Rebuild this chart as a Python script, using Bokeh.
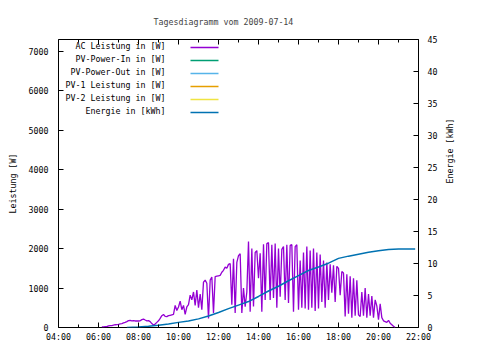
import math
from bokeh.plotting import figure
from bokeh.models import Range1d, LinearAxis, FixedTicker, Label, Arrow
from bokeh.embed import file_html
from bokeh.resources import INLINE

TITLE = "Tagesdiagramm vom 2009-07-14"
LEFT_LABEL = "Leistung [W]"
RIGHT_LABEL = "Energie [kWh]"

x_tick_hours = [4, 6, 8, 10, 12, 14, 16, 18, 20, 22]
x_tick_labels = ["04:00", "06:00", "08:00", "10:00", "12:00", "14:00",
                 "16:00", "18:00", "20:00", "22:00"]
x_minor_hours = [5, 7, 9, 11, 13, 15, 17, 19, 21]
y_left_ticks = [0, 1000, 2000, 3000, 4000, 5000, 6000, 7000]
y_right_ticks = [0, 5, 10, 15, 20, 25, 30, 35, 40, 45]

series_names = ["AC Leistung in [W]", "PV-Power-In in [W]", "PV-Power-Out in [W]",
                "PV-1 Leistung in [W]", "PV-2 Leistung in [W]", "Energie in [kWh]"]
series_colors = ["#9400D3", "#009E73", "#56B4E9", "#E69F00", "#F0E442", "#0072B2"]

# AC power, sampled every 5 minutes from 06:10
ac_start = "06:10"
ac_step_minutes = 5
ac_power = [
    15, 15, 20, 20, 40, 50, 50, 60, 70, 75,
    80, 90, 100, 115, 130, 150, 175, 180, 170, 175, 165, 165,
    165, 170, 200, 215, 190, 170, 175, 150, 100, 60, 90, 130,
    170, 230, 300, 330, 280, 275, 300, 310, 320, 330, 560, 430,
    520, 670, 450, 560, 330, 520, 580, 820, 700, 900, 560, 950,
    500, 850, 450, 1150, 1200, 1120, 230, 1200, 1280, 370, 1290, 1300,
    1310, 1320, 1400, 1450, 1530, 1500, 1600, 1620, 580, 1740, 370, 1650,
    1820, 1870, 370, 1000, 530, 900, 2180, 400, 2000, 530, 1900, 1950,
    1250, 1880, 400, 2110, 700, 2130, 2150, 700, 2100, 750, 2130, 500,
    2000, 780, 1980, 2050, 700, 2100, 620, 2080, 2100, 400, 2050, 2100,
    450, 1700, 500, 1900, 480, 2050, 450, 1950, 500, 2000, 420, 1900,
    480, 1850, 650, 1700, 500, 1650, 700, 1600, 880, 1580, 650, 1550,
    1500, 820, 1420, 1380, 280, 1350, 350, 1300, 250, 1250, 300, 1200,
    320, 280, 900, 300, 1000, 250, 850, 300, 800, 250, 700, 550,
    200, 600, 250, 170, 150, 130, 180, 110, 70, 30, 0,
]

# series present in the legend without visible data
pv_in = []
pv_out = []
pv1 = []
pv2 = []

energy_times = ["07:25", "08:00", "08:30", "09:00", "09:30", "10:00", "10:30", "11:00",
                "11:30", "12:00", "12:30", "13:00", "13:30", "14:00", "14:30", "15:00",
                "15:30", "16:00", "16:30", "17:00", "17:30", "18:00", "18:30", "19:00",
                "19:30", "20:00", "20:30", "21:00", "21:50"]
energy_kwh = [0.0, 0.08, 0.2, 0.35, 0.55, 0.8, 1.0, 1.35,
              1.8, 2.35, 2.95, 3.5, 4.05, 4.85, 5.7, 6.45,
              7.3, 8.1, 8.9, 9.45, 10.05, 10.8, 11.15, 11.45,
              11.75, 12.0, 12.2, 12.25, 12.25]


def to_hours(s):
    h, m = s.split(":")
    return int(h) + int(m) / 60.0


start_h = to_hours(ac_start)
ac_x = [start_h + i * ac_step_minutes / 60.0 for i in range(len(ac_power))]
en_x = [to_hours(t) for t in energy_times]

FONT = "DejaVu Sans Mono"
FS = "8.3px"
FRAME_H = 291

p = figure(width=464, height=344, output_backend="svg", toolbar_location=None,
           x_range=Range1d(4, 22), y_range=Range1d(0, 7300),
           min_border_left=58, min_border_right=46, min_border_top=39, min_border_bottom=14)
p.extra_y_ranges = {"energy": Range1d(0, 45)}
p.background_fill_color = "white"
p.border_fill_color = "white"
p.outline_line_color = "black"
p.outline_line_width = 1
p.xgrid.visible = False
p.ygrid.visible = False

p.title.text = TITLE
p.title.text_font = FONT
p.title.text_font_size = FS
p.title.text_font_style = "normal"
p.title.align = "left"
p.title.offset = 95
p.title.standoff = 26


def style_axis(ax, ticks, minor=None):
    ax.ticker = FixedTicker(ticks=ticks, minor_ticks=minor or [])
    ax.axis_line_color = None
    ax.major_tick_in = 5
    ax.major_tick_out = 0
    ax.minor_tick_in = 3
    ax.minor_tick_out = 0
    ax.major_tick_line_color = "black"
    ax.minor_tick_line_color = "black"
    ax.major_label_text_font = FONT
    ax.major_label_text_font_size = FS
    ax.major_label_text_color = "black"
    ax.axis_label_text_font = FONT
    ax.axis_label_text_font_size = FS
    ax.axis_label_text_font_style = "normal"
    ax.axis_label_text_color = "black"


xa = p.xaxis[0]
style_axis(xa, x_tick_hours, x_minor_hours)
xa.major_label_overrides = {h: lab for h, lab in zip(x_tick_hours, x_tick_labels)}
xa.major_label_standoff = 4

ya = p.yaxis[0]
style_axis(ya, y_left_ticks)
ya.axis_label = LEFT_LABEL
ya.major_label_standoff = 10
ya.axis_label_standoff = 8

top = LinearAxis()
style_axis(top, x_tick_hours, x_minor_hours)
top.major_label_overrides = {h: "" for h in x_tick_hours}
top.major_label_standoff = 0
p.add_layout(top, "above")

ra = LinearAxis(y_range_name="energy")
style_axis(ra, y_right_ticks)
ra.axis_label = RIGHT_LABEL
ra.major_label_standoff = 9
ra.axis_label_standoff = 10
try:
    ra.axis_label_orientation = math.pi / 2
except (AttributeError, ValueError):
    pass
p.add_layout(ra, "right")

p.line(ac_x, ac_power, line_color=series_colors[0], line_width=1.3)
p.line(pv_in, pv_in, line_color=series_colors[1], line_width=1.3)
p.line(pv_out, pv_out, line_color=series_colors[2], line_width=1.3)
p.line(pv1, pv1, line_color=series_colors[3], line_width=1.3)
p.line(pv2, pv2, line_color=series_colors[4], line_width=1.3)
p.line(en_x, energy_kwh, line_color=series_colors[5], line_width=1.5, y_range_name="energy")

# gnuplot-style key: right-aligned text, sample line to the right
for i, (name, col) in enumerate(zip(series_names, series_colors)):
    ly = FRAME_H - 9 - 13 * i
    p.add_layout(Label(x=107, y=ly, x_units="screen", y_units="screen", text=name,
                       text_align="right", text_baseline="middle",
                       text_font=FONT, text_font_size=FS, text_color="black"))
    p.add_layout(Arrow(end=None, x_start=132, y_start=ly - 2, x_end=160, y_end=ly - 2,
                       start_units="screen", end_units="screen",
                       line_color=col, line_width=1.5))

open("out.html", "w").write(file_html(p, INLINE))
